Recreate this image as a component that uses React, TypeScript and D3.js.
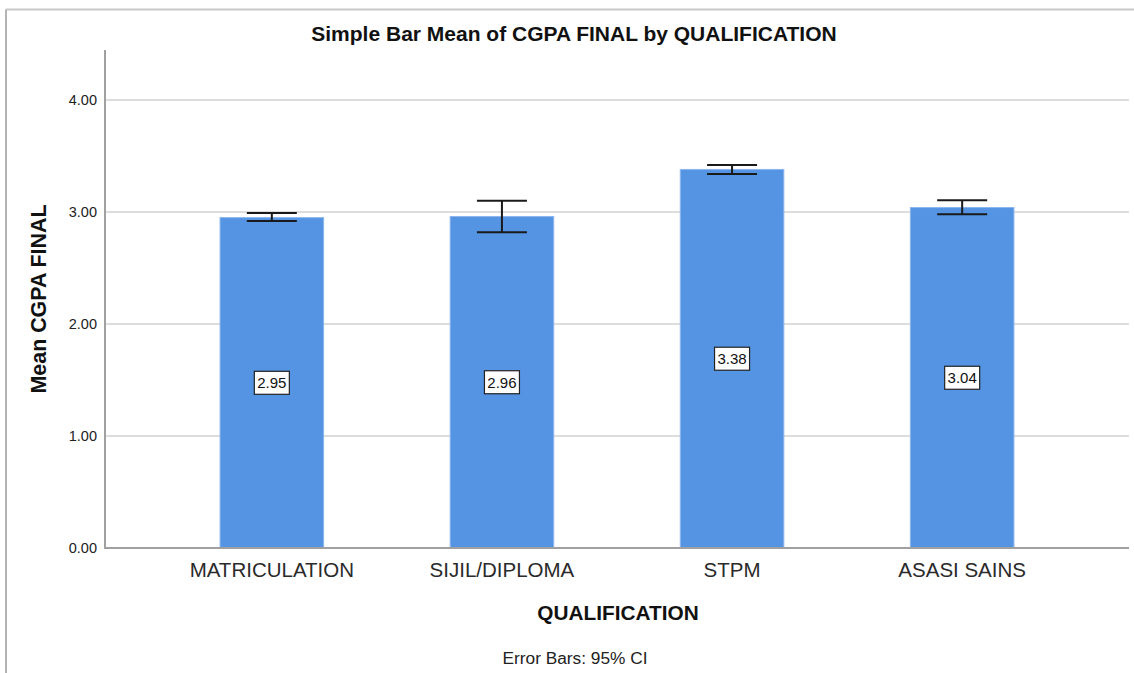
import React from "react";
import * as d3 from "d3";

const categories = ["MATRICULATION", "SIJIL/DIPLOMA", "STPM", "ASASI SAINS"];
const means = [2.95, 2.96, 3.38, 3.04];
const ciLower = [2.92, 2.82, 3.34, 2.98];
const ciUpper = [2.99, 3.1, 3.42, 3.105];
const yTicks = [0, 1, 2, 3, 4];

const W = 1134;
const H = 673;
const FONT = "'Liberation Sans', Arial, sans-serif";

export default function App() {
  const left = 105, right = 1129, top = 50, bottom = 548;
  const y = d3.scaleLinear().domain([0, 4]).range([bottom, 100]);
  const x = d3.scaleBand<string>().domain(categories).range([left, right]).paddingInner(0.55).paddingOuter(0.5);
  const bw = x.bandwidth();
  const capW = 50;
  const fmt = d3.format(".2f");

  return (
    <svg width={W} height={H} style={{ position: "absolute", left: 0, top: 0, background: "#fff" }} fontFamily={FONT}>
      <rect x={0} y={0} width={W} height={H} fill="#fff" />
      {/* frame */}
      <line x1={6} y1={9.5} x2={W} y2={9.5} stroke="#c8c8c8" strokeWidth={2} />
      <line x1={6} y1={9.5} x2={6} y2={H} stroke="#b4b4b4" strokeWidth={2} />

      <text x={574} y={40.5} textAnchor="middle" fontSize={21} fontWeight="bold" fill="#111">
        Simple Bar Mean of CGPA FINAL by QUALIFICATION
      </text>

      {/* grid lines */}
      {yTicks.filter((t) => t > 0).map((t) => (
        <line key={t} x1={left} x2={right} y1={y(t)} y2={y(t)} stroke="#d2d2d2" strokeWidth={1.6} />
      ))}

      {/* bars */}
      {categories.map((c, i) => (
        <rect key={c} x={x(c)!} y={y(means[i])} width={bw} height={bottom - y(means[i])} fill="#5594e3" stroke="#8db6ee" strokeWidth={1} />
      ))}

      {/* axes */}
      <line x1={left} x2={left} y1={top} y2={bottom + 1} stroke="#a0a0a0" strokeWidth={2} />
      <line x1={left} x2={right} y1={bottom} y2={bottom} stroke="#a0a0a0" strokeWidth={2} />

      {/* y ticks */}
      {yTicks.map((t) => (
        <text key={t} x={97} y={y(t) + 5} textAnchor="end" fontSize={14.5} fill="#222">{fmt(t)}</text>
      ))}

      {/* error bars */}
      {categories.map((c, i) => {
        const cx = x(c)! + bw / 2;
        return (
          <g key={c} stroke="#1a1a1a" strokeWidth={2}>
            <line x1={cx} x2={cx} y1={y(ciUpper[i])} y2={y(ciLower[i])} />
            <line x1={cx - capW / 2} x2={cx + capW / 2} y1={y(ciUpper[i])} y2={y(ciUpper[i])} />
            <line x1={cx - capW / 2} x2={cx + capW / 2} y1={y(ciLower[i])} y2={y(ciLower[i])} />
          </g>
        );
      })}

      {/* value labels */}
      {categories.map((c, i) => {
        const cx = x(c)! + bw / 2;
        const cy = y(means[i] / 2);
        return (
          <g key={c}>
            <rect x={cx - 17.5} y={cy - 11.5} width={35} height={23} fill="#fff" stroke="#222" strokeWidth={1.2} />
            <text x={cx} y={cy + 5.5} textAnchor="middle" fontSize={15} fill="#111">{fmt(means[i])}</text>
          </g>
        );
      })}

      {/* category labels */}
      {categories.map((c) => (
        <text key={c} x={x(c)! + bw / 2} y={577} textAnchor="middle" fontSize={20.5} fill="#2a2a2a">{c}</text>
      ))}

      <text x={618} y={620} textAnchor="middle" fontSize={20.8} fontWeight="bold" fill="#111">QUALIFICATION</text>
      <text transform={`translate(46, ${(top + bottom) / 2}) rotate(-90)`} textAnchor="middle" fontSize={21.4} fontWeight="bold" fill="#111">
        Mean CGPA FINAL
      </text>

      <text x={575} y={664} textAnchor="middle" fontSize={17.3} fill="#222">Error Bars: 95% CI</text>
    </svg>
  );
}
